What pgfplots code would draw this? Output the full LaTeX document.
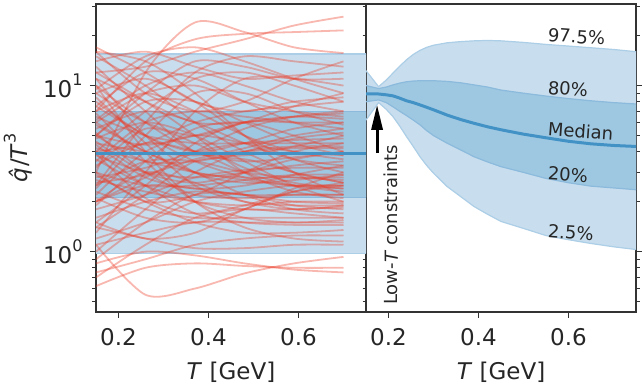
\documentclass[border=0pt]{standalone}
\usepackage{pgfplots}
\pgfplotsset{compat=1.18}
\usepackage{pgfplotstable}
\usepgfplotslibrary{fillbetween}
\usetikzlibrary{arrows.meta}
\usepackage{fontspec}
\setmainfont{DejaVu Sans}
\definecolor{bandlight}{RGB}{200,222,238}
\definecolor{bandmid}{RGB}{158,200,226}
\definecolor{edgelight}{RGB}{172,206,230}
\definecolor{edgemid}{RGB}{140,186,220}
\definecolor{medblue}{RGB}{66,146,198}
\definecolor{redl}{RGB}{235,62,42}
\definecolor{spine}{RGB}{51,51,51}
\definecolor{txt}{RGB}{38,38,38}
\newcommand\sups[1]{\raisebox{0.5em}{\fontsize{16}{18}\selectfont #1}}
\newcommand\rl[6]{\addplot[redl, opacity=0.37, line width=1.8pt, smooth] coordinates {(0.15,#1)(0.26,#2)(0.37,#3)(0.48,#4)(0.59,#5)(0.70,#6)};}

\pgfplotstableread{
T p975 p80 med p20 p025
0.150 12.3 10.0 8.90 8.00 6.20
0.178 9.85 9.60 8.90 8.20 7.90
0.195 10.8 9.80 8.80 7.90 7.20
0.210 11.9 10.1 8.67 7.45 6.50
0.225 13.1 10.35 8.40 7.00 5.70
0.240 14.3 10.55 8.10 6.60 4.93
0.255 15.4 10.65 7.90 6.20 4.30
0.270 16.3 10.7 7.65 5.80 3.73
0.285 17.0 10.7 7.40 5.35 3.30
0.300 17.5 10.7 7.15 5.00 2.97
0.330 18.1 10.6 6.65 4.50 2.47
0.360 18.4 10.4 6.25 4.10 2.15
0.390 18.6 10.1 5.93 3.73 1.87
0.420 18.7 9.8 5.65 3.47 1.68
0.450 18.6 9.4 5.42 3.25 1.52
0.500 18.2 9.0 5.10 3.00 1.38
0.550 17.7 8.65 4.85 2.76 1.25
0.600 17.3 8.35 4.62 2.60 1.18
0.650 16.9 8.1 4.46 2.48 1.12
0.700 16.5 7.9 4.36 2.42 1.07
0.750 16.0 7.75 4.30 2.36 1.03
}\bands

\pgfplotsset{
  qhatpanel/.style={
    scale only axis, width=270pt, height=307.7pt,
    xmin=0.15, xmax=0.75, ymin=0.435, ymax=31,
    xtick={0.2,0.4,0.6}, xticklabels={0.2,0.4,0.6},
    ytick={1,10},
    minor ytick={0.5,0.6,0.7,0.8,0.9,2,3,4,5,6,7,8,9,20,30},
    tick align=outside, major tick length=6pt, minor tick length=3.5pt,
    tick style={spine, line width=1.2pt},
    axis line style={spine, line width=1.8pt},
    xtick pos=bottom,
    tick label style={font=\fontsize{23}{27}\selectfont, text=txt},
    xticklabel style={yshift=-7pt},
    yticklabel style={xshift=-4pt},
    label style={font=\fontsize{23}{27}\selectfont, text=txt},
    xlabel={\textit{T} [GeV]},
    xlabel style={at={(axis description cs:0.5,-0.197)}, anchor=center},
    clip mode=individual,
  },
}

\begin{document}
\begin{tikzpicture}
\begin{semilogyaxis}[qhatpanel, at={(96pt,73.3pt)}, anchor=south west,
  ytick pos=left,
  yticklabels={10\sups{0},10\sups{1}},
  ylabel={\textit{\^{q}}/\textit{T}\sups{3}},
  ylabel style={at={(axis description cs:-0.29,0.5)}, anchor=center},
]
\addplot[fill=bandlight, draw=none] coordinates {(0.15,0.98)(0.75,0.98)(0.75,15.5)(0.15,15.5)(0.15,0.98)};
\addplot[fill=bandmid, draw=none] coordinates {(0.15,2.13)(0.75,2.13)(0.75,6.96)(0.15,6.96)(0.15,2.13)};
\addplot[edgelight, line width=1.2pt] coordinates {(0.15,15.5)(0.75,15.5)};
\addplot[edgelight, line width=1.2pt] coordinates {(0.15,0.98)(0.75,0.98)};
\addplot[edgemid, line width=1.2pt] coordinates {(0.15,6.96)(0.75,6.96)};
\addplot[edgemid, line width=1.2pt] coordinates {(0.15,2.13)(0.75,2.13)};
\rl{3.0}{12}{24}{21}{17}{15.7}
\rl{12}{13}{16}{19}{23}{26}
\rl{7}{14}{19}{20.5}{21}{21.5}
\rl{16}{9}{7}{8}{11}{14}
\rl{2.5}{6}{12}{15}{14}{13}
\rl{14}{16}{13}{11}{11.5}{12}
\rl{5}{9}{14}{13}{11}{11}
\rl{1.3}{3}{7}{11}{11}{10}
\rl{9}{6}{5}{6}{7.5}{9}
\rl{17}{12}{8}{7}{8}{8.5}
\rl{4}{4.5}{6}{7}{7.5}{8}
\rl{2}{2.8}{4}{5.5}{6.5}{7}
\rl{11}{8}{6}{6}{6.5}{6.8}
\rl{6}{9}{10}{8}{7}{6.5}
\rl{1.5}{2.5}{4.5}{6}{6}{6}
\rl{8}{5}{4}{4.5}{5.5}{6}
\rl{3.5}{6}{7}{6.5}{6}{5.5}
\rl{5}{3.5}{3.5}{4}{4.8}{5.2}
\rl{13}{7}{4}{3.8}{4.3}{5}
\rl{2.8}{3.2}{4}{4.5}{4.7}{4.8}
\rl{6.5}{5}{4.5}{4.5}{4.5}{4.5}
\rl{1.0}{1.8}{3}{4}{4.3}{4.3}
\rl{4.5}{4}{3.8}{4}{4.2}{4.2}
\rl{10}{6}{4}{3.5}{3.7}{4}
\rl{2.2}{4}{5}{4.5}{4}{3.8}
\rl{7}{9}{7}{5}{4}{3.6}
\rl{3.8}{3}{2.8}{3}{3.3}{3.5}
\rl{5.5}{7}{6}{4.5}{3.6}{3.3}
\rl{1.8}{2.2}{2.8}{3.1}{3.2}{3.2}
\rl{9}{11}{8}{5}{3.6}{3.0}
\rl{3}{2.5}{2.5}{2.7}{2.9}{2.9}
\rl{6}{4}{3}{2.8}{2.8}{2.8}
\rl{2.5}{3.5}{3.5}{3}{2.8}{2.7}
\rl{15}{10}{6}{4}{3}{2.6}
\rl{4.2}{3.5}{3}{2.7}{2.5}{2.5}
\rl{1.2}{1.5}{2}{2.3}{2.5}{2.5}
\rl{7.5}{5}{3.5}{2.8}{2.5}{2.4}
\rl{3.3}{4.5}{4}{3}{2.5}{2.3}
\rl{2.0}{2.5}{2.4}{2.2}{2.2}{2.2}
\rl{5.2}{3}{2.2}{2.1}{2.2}{2.2}
\rl{12}{8}{5}{3}{2.3}{2.1}
\rl{2.7}{2.3}{2.0}{1.9}{2.0}{2.0}
\rl{4.8}{6}{5}{3.5}{2.5}{2.0}
\rl{1.6}{2}{2.3}{2.2}{2.0}{1.95}
\rl{8.5}{4.5}{2.5}{2}{1.9}{1.9}
\rl{3.6}{2.5}{2}{1.8}{1.8}{1.85}
\rl{0.9}{1.5}{2.2}{2.2}{1.9}{1.8}
\rl{5.8}{4}{3}{2.2}{1.8}{1.7}
\rl{2.3}{1.8}{1.6}{1.6}{1.6}{1.6}
\rl{6.8}{3.5}{2}{1.6}{1.5}{1.55}
\rl{1.1}{1.3}{1.5}{1.5}{1.5}{1.5}
\rl{4}{2.5}{1.7}{1.5}{1.45}{1.45}
\rl{2.9}{2}{1.5}{1.3}{1.3}{1.35}
\rl{0.75}{0.9}{1.1}{1.2}{1.25}{1.25}
\rl{10}{4}{2}{1.4}{1.2}{1.15}
\rl{1.4}{1.2}{1.05}{1.05}{1.1}{1.1}
\rl{1.1}{0.55}{0.6}{0.74}{0.85}{0.93}
\rl{0.62}{0.8}{0.85}{0.82}{0.8}{0.8}
\rl{0.85}{1.0}{0.95}{0.85}{0.78}{0.75}
\rl{0.7}{1.1}{1.6}{1.8}{1.7}{1.6}
\rl{16}{14}{9}{5}{3}{2.2}
\rl{4}{7}{11}{12}{10}{8}
\rl{2.4}{5}{9}{9}{7}{5.8}
\rl{3}{2}{2.2}{3}{4}{4.5}
\rl{1.5}{1.2}{1.3}{1.8}{2.3}{2.6}
\rl{5}{8}{8}{6}{4.5}{3.8}
\rl{9.5}{15}{17}{14}{11}{9}
\rl{1.9}{3.5}{5.5}{6}{5}{4}
\rl{2.1}{1.6}{1.5}{1.8}{2.4}{3.0}
\rl{7.5}{12}{11}{8}{6}{5}
\rl{3.2}{5.5}{4.5}{3.2}{2.6}{2.4}
\rl{4.6}{3}{2.6}{3}{3.6}{4.0}
\rl{2.6}{2.9}{3.6}{4.2}{5.0}{5.5}
\rl{6.2}{10}{12}{10}{8}{7}
\rl{1.4}{2.2}{3.5}{3.6}{3.0}{2.6}
\rl{3.9}{2.1}{1.7}{1.9}{2.3}{2.5}
\rl{11}{5}{3}{2.6}{2.7}{2.9}
\rl{2.0}{3}{2.6}{2.0}{1.8}{1.9}
\rl{5}{4.4}{5}{6}{6.5}{6.3}
\rl{4.4}{2.8}{2.4}{2.5}{2.9}{3.3}
\addplot[medblue, line width=3pt] coordinates {(0.15,3.92)(0.75,3.92)};
\end{semilogyaxis}

\begin{semilogyaxis}[qhatpanel, at={(366pt,73.3pt)}, anchor=south west,
  ytick pos=both, yticklabels={},
]
\addplot[draw=none, name path=a] table[x=T,y=p975]{\bands};
\addplot[draw=none, name path=b] table[x=T,y=p025]{\bands};
\addplot[draw=none, name path=c] table[x=T,y=p80]{\bands};
\addplot[draw=none, name path=d] table[x=T,y=p20]{\bands};
\addplot[fill=bandlight, draw=none] fill between[of=a and b];
\addplot[fill=bandmid, draw=none] fill between[of=c and d];
\addplot[edgelight, line width=1.2pt] table[x=T,y=p975]{\bands};
\addplot[edgelight, line width=1.2pt] table[x=T,y=p025]{\bands};
\addplot[edgemid, line width=1.2pt] table[x=T,y=p80]{\bands};
\addplot[edgemid, line width=1.2pt] table[x=T,y=p20]{\bands};
\addplot[medblue, line width=3pt] table[x=T,y=med]{\bands};
\draw[-{Triangle[length=25pt,width=11pt]}, black, line width=3pt] (axis cs:0.1746,3.92) -- (axis cs:0.1746,7.66);
\node[rotate=90, anchor=base west, inner sep=0pt, font=\fontsize{18}{21}\selectfont, text=txt] at (axis cs:0.2208,0.477) {Low-\textit{T} constraints};
\node[anchor=west, rotate=-4, inner sep=0pt, font=\fontsize{18}{21}\selectfont, text=txt] at (axis cs:0.554,20.3) {97.5\%};
\node[anchor=west, rotate=-4, inner sep=0pt, font=\fontsize{18}{21}\selectfont, text=txt] at (axis cs:0.554,9.73) {80\%};
\node[anchor=west, rotate=-4, inner sep=0pt, font=\fontsize{18}{21}\selectfont, text=txt] at (axis cs:0.554,5.48) {Median};
\node[anchor=west, rotate=-4, inner sep=0pt, font=\fontsize{18}{21}\selectfont, text=txt] at (axis cs:0.554,2.98) {20\%};
\node[anchor=west, rotate=-4, inner sep=0pt, font=\fontsize{18}{21}\selectfont, text=txt] at (axis cs:0.554,1.33) {2.5\%};
\end{semilogyaxis}
\pgfresetboundingbox
\path[use as bounding box] (0,0) rectangle (642pt,385pt);
\end{tikzpicture}
\end{document}
